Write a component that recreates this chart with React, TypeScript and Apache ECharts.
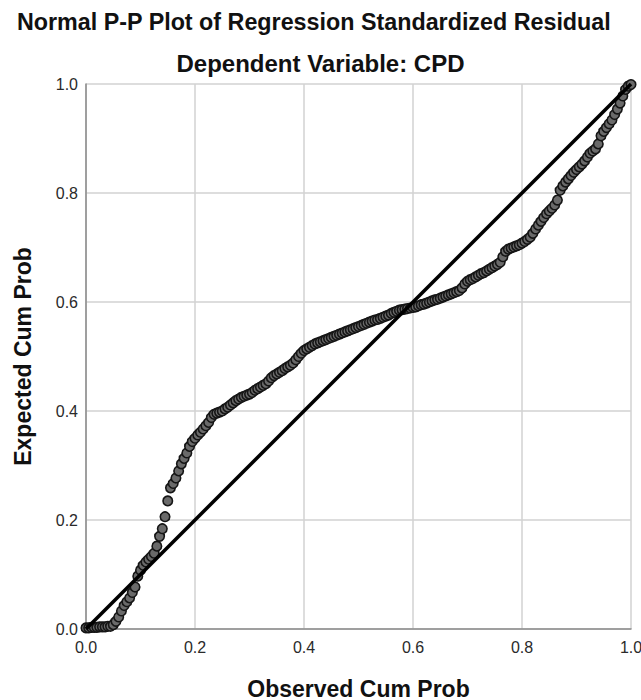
import React, { useEffect, useRef } from "react";
import * as echarts from "echarts";

const TITLE = "Normal P-P Plot of Regression Standardized Residual";
const SUBTITLE = "Dependent Variable: CPD";
const X_NAME = "Observed Cum Prob";
const Y_NAME = "Expected Cum Prob";
const TICKS = [0, 0.2, 0.4, 0.6, 0.8, 1.0];

// [observed cum prob, expected cum prob]
const POINTS: [number, number][] = [
  [0.000, 0.002], [0.005, 0.002], [0.010, 0.003], [0.015, 0.003], [0.020, 0.003],
  [0.025, 0.004], [0.030, 0.004], [0.035, 0.004], [0.040, 0.005], [0.045, 0.005],
  [0.050, 0.008], [0.055, 0.014], [0.060, 0.022], [0.065, 0.033], [0.070, 0.043],
  [0.075, 0.050], [0.080, 0.057], [0.085, 0.067], [0.090, 0.077], [0.095, 0.097],
  [0.100, 0.108], [0.105, 0.117], [0.110, 0.123], [0.115, 0.128], [0.120, 0.133],
  [0.125, 0.139], [0.130, 0.152], [0.135, 0.170], [0.140, 0.184], [0.145, 0.206],
  [0.150, 0.235], [0.155, 0.259], [0.160, 0.267], [0.165, 0.277], [0.170, 0.290],
  [0.175, 0.303], [0.180, 0.313], [0.185, 0.323], [0.190, 0.335], [0.195, 0.344],
  [0.200, 0.350], [0.205, 0.356], [0.210, 0.361], [0.215, 0.367], [0.220, 0.373],
  [0.225, 0.379], [0.230, 0.388], [0.235, 0.394], [0.240, 0.396], [0.245, 0.398],
  [0.250, 0.400], [0.255, 0.404], [0.260, 0.407], [0.265, 0.411], [0.270, 0.415],
  [0.275, 0.419], [0.280, 0.422], [0.285, 0.425], [0.290, 0.427], [0.295, 0.429],
  [0.300, 0.431], [0.305, 0.434], [0.310, 0.438], [0.315, 0.441], [0.320, 0.444],
  [0.325, 0.447], [0.330, 0.450], [0.335, 0.455], [0.340, 0.461], [0.345, 0.465],
  [0.350, 0.468], [0.355, 0.471], [0.360, 0.474], [0.365, 0.478], [0.370, 0.481],
  [0.375, 0.484], [0.380, 0.488], [0.385, 0.494], [0.390, 0.500], [0.395, 0.506],
  [0.400, 0.511], [0.405, 0.514], [0.410, 0.517], [0.415, 0.520], [0.420, 0.523],
  [0.425, 0.525], [0.430, 0.527], [0.435, 0.529], [0.440, 0.531], [0.445, 0.533],
  [0.450, 0.535], [0.455, 0.537], [0.460, 0.539], [0.465, 0.541], [0.470, 0.543],
  [0.475, 0.545], [0.480, 0.547], [0.485, 0.549], [0.490, 0.551], [0.495, 0.553],
  [0.500, 0.555], [0.505, 0.557], [0.510, 0.559], [0.515, 0.561], [0.520, 0.563],
  [0.525, 0.565], [0.530, 0.567], [0.535, 0.568], [0.540, 0.570], [0.545, 0.572],
  [0.550, 0.574], [0.555, 0.576], [0.560, 0.579], [0.565, 0.581], [0.570, 0.583],
  [0.575, 0.585], [0.580, 0.586], [0.585, 0.587], [0.590, 0.588], [0.595, 0.589],
  [0.600, 0.590], [0.605, 0.591], [0.610, 0.593], [0.615, 0.595], [0.620, 0.596],
  [0.625, 0.598], [0.630, 0.600], [0.635, 0.602], [0.640, 0.604], [0.645, 0.605],
  [0.650, 0.607], [0.655, 0.609], [0.660, 0.611], [0.665, 0.613], [0.670, 0.615],
  [0.675, 0.617], [0.680, 0.619], [0.685, 0.621], [0.690, 0.626], [0.695, 0.633],
  [0.700, 0.638], [0.705, 0.641], [0.710, 0.643], [0.715, 0.646], [0.720, 0.649],
  [0.725, 0.652], [0.730, 0.654], [0.735, 0.657], [0.740, 0.660], [0.745, 0.663],
  [0.750, 0.666], [0.755, 0.669], [0.760, 0.673], [0.765, 0.683], [0.770, 0.693],
  [0.775, 0.697], [0.780, 0.699], [0.785, 0.701], [0.790, 0.703], [0.795, 0.705],
  [0.800, 0.708], [0.805, 0.711], [0.810, 0.715], [0.815, 0.719], [0.820, 0.726],
  [0.825, 0.734], [0.830, 0.741], [0.835, 0.748], [0.840, 0.755], [0.845, 0.762],
  [0.850, 0.767], [0.855, 0.772], [0.860, 0.778], [0.865, 0.787], [0.870, 0.805],
  [0.875, 0.813], [0.880, 0.820], [0.885, 0.826], [0.890, 0.832], [0.895, 0.838],
  [0.900, 0.843], [0.905, 0.848], [0.910, 0.853], [0.915, 0.859], [0.920, 0.866],
  [0.925, 0.873], [0.930, 0.877], [0.935, 0.881], [0.940, 0.890], [0.945, 0.905],
  [0.950, 0.913], [0.955, 0.920], [0.960, 0.927], [0.965, 0.934], [0.970, 0.944],
  [0.975, 0.954], [0.980, 0.965], [0.985, 0.978], [0.990, 0.990], [0.995, 0.996],
  [1.000, 0.999],
];

// diagonal reference line end points
const REF_LINE: [number, number][] = [
  [0, 0],
  [1, 1],
];

const FONT = "'Liberation Sans', Arial, sans-serif";

export default function App() {
  const ref = useRef<HTMLDivElement>(null);

  useEffect(() => {
    document.body.style.margin = "0";
    if (!ref.current) return;
    const chart = echarts.init(ref.current, null, { renderer: "svg" });
    const axisCommon = {
      type: "value" as const,
      min: TICKS[0],
      max: TICKS[TICKS.length - 1],
      interval: 0.2,
      axisLine: { show: true, lineStyle: { color: "#8a8a8a", width: 1.5 } },
      axisTick: { show: false },
      splitLine: { show: true, lineStyle: { color: "#d2d2d2", width: 1.5 } },
      axisLabel: {
        fontFamily: FONT,
        fontSize: 16,
        color: "#2a2a2a",
        formatter: (v: number) => v.toFixed(1),
      },
      nameLocation: "middle" as const,
      nameTextStyle: {
        fontFamily: FONT,
        fontSize: 23,
        fontWeight: "bold" as const,
        color: "#111",
      },
    };
    chart.setOption({
      animation: false,
      backgroundColor: "#fff",
      title: [
        {
          text: TITLE,
          left: 12,
          top: 5,
          textStyle: { fontFamily: FONT, fontSize: 23.3, fontWeight: "bold", color: "#111" },
        },
        {
          text: SUBTITLE,
          left: "center",
          top: 46,
          textStyle: { fontFamily: FONT, fontSize: 24, fontWeight: "bold", color: "#111" },
        },
      ],
      grid: {
        left: 86,
        right: 10,
        top: 84,
        bottom: 71,
        containLabel: false,
        outerBoundsMode: "none",
      },
      xAxis: {
        ...axisCommon,
        name: X_NAME,
        nameGap: 48,
        axisLabel: { ...axisCommon.axisLabel, margin: 10 },
      },
      yAxis: {
        ...axisCommon,
        name: Y_NAME,
        nameGap: 52,
        axisLabel: { ...axisCommon.axisLabel, margin: 8 },
      },
      series: [
        {
          type: "scatter",
          data: POINTS,
          symbol: "circle",
          symbolSize: 9.5,
          itemStyle: { color: "#6a6a6a", borderColor: "#151515", borderWidth: 1.6, opacity: 1 },
          z: 2,
        },
        {
          type: "line",
          data: REF_LINE,
          symbol: "none",
          lineStyle: { color: "#000", width: 3.5 },
          z: 3,
        },
      ],
    });
    return () => chart.dispose();
  }, []);

  return (
    <div
      ref={ref}
      style={{ width: 641, height: 700, position: "absolute", left: 0, top: 0 }}
    />
  );
}
